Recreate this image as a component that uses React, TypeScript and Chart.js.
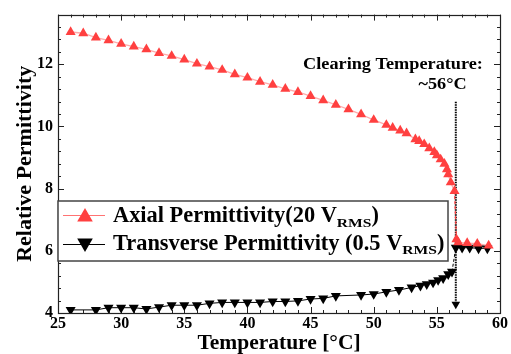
import React, { useEffect, useRef } from 'react';
import { Chart, registerables } from 'chart.js';

Chart.register(...registerables);

// ---- data ----
const axialTemp = [26, 27, 28, 29, 30, 31, 32, 33, 34, 35, 36, 37, 38, 39, 40, 41, 42, 43, 44, 45, 46, 47, 48, 49, 50, 51, 51.5, 52.1, 52.6, 53.3, 53.6, 54, 54.4, 54.8, 55.0, 55.3, 55.6, 55.8, 55.9, 56.1, 56.4, 56.55, 56.7, 57.4, 58.2, 59.1];
const axialPerm = [13.04, 13.0, 12.86, 12.77, 12.66, 12.57, 12.48, 12.36, 12.27, 12.15, 12.02, 11.93, 11.82, 11.68, 11.57, 11.44, 11.34, 11.21, 11.11, 10.98, 10.84, 10.7, 10.55, 10.39, 10.21, 10.05, 9.96, 9.87, 9.78, 9.59, 9.53, 9.43, 9.3, 9.18, 9.07, 8.94, 8.8, 8.62, 8.46, 8.2, 7.92, 6.37, 6.27, 6.25, 6.23, 6.17];

const transTemp = [26, 28, 29, 30, 31, 32, 33, 34, 35, 36, 37, 38, 39, 40, 41, 42, 43, 44, 45, 46, 47, 49, 50, 51, 52, 53, 53.7, 54.2, 54.7, 55.1, 55.5, 55.9, 56.2, 56.5, 57.0, 57.6, 58.3, 59.0];
const transPerm = [4.1, 4.1, 4.17, 4.17, 4.17, 4.13, 4.19, 4.25, 4.25, 4.25, 4.31, 4.34, 4.34, 4.34, 4.34, 4.37, 4.37, 4.39, 4.45, 4.47, 4.55, 4.58, 4.61, 4.68, 4.74, 4.82, 4.88, 4.93, 4.98, 5.06, 5.12, 5.25, 5.33, 6.1, 6.1, 6.1, 6.08, 6.08];

const clearingTemp = 56.5;
const clearingLine = [10.8, 4.28];

const xTicks = [25, 30, 35, 40, 45, 50, 55, 60];
const yTicks = [4, 6, 8, 10, 12];
const xMinorStep = 1;
const yMinorStep = 0.4;

const legendLabels = [
  { main: 'Axial Permittivity(20 V', sub: 'RMS', tail: ')' },
  { main: 'Transverse Permittivity (0.5 V', sub: 'RMS', tail: ')' },
];
const annotationLines = ['Clearing Temperature:', '~56°C'];

const FONT = '"Liberation Serif", "Times New Roman", serif';
const RED = 'rgb(255,64,64)';

function drawText(ctx: CanvasRenderingContext2D, text: string, x: number, y: number, size: number, sx: number, align: 'left' | 'center' = 'left') {
  ctx.save();
  ctx.font = `bold ${size}px ${FONT}`;
  const w = ctx.measureText(text).width * sx;
  const x0 = align === 'center' ? x - w / 2 : x;
  ctx.translate(x0, y);
  ctx.scale(sx, 1);
  ctx.textAlign = 'left';
  ctx.textBaseline = 'alphabetic';
  ctx.fillStyle = '#000';
  ctx.fillText(text, 0, 0);
  ctx.restore();
  return w;
}

function tri(ctx: CanvasRenderingContext2D, x: number, y: number, r: number, down: boolean, color: string) {
  const s = down ? -1 : 1;
  ctx.beginPath();
  ctx.moveTo(x, y - s * r);
  ctx.lineTo(x + 0.866 * r, y + s * 0.5 * r);
  ctx.lineTo(x - 0.866 * r, y + s * 0.5 * r);
  ctx.closePath();
  ctx.fillStyle = color;
  ctx.fill();
}

const framePlugin = {
  id: 'frame',
  beforeDatasetsDraw(chart: any) {
    const { ctx, chartArea: a, scales } = chart;
    const x = scales.x, y = scales.y;
    ctx.save();
    ctx.strokeStyle = '#222';
    ctx.lineWidth = 1;
    ctx.beginPath();
    const xmin = x.min, xmax = x.max;
    for (let k = 0; xmin + k * xMinorStep <= xmax + 1e-6; k++) {
      const v = xmin + k * xMinorStep;
      const px = Math.round(x.getPixelForValue(v)) + 0.5;
      const major = xTicks.some((t) => Math.abs(t - v) < 1e-6);
      const L = major ? 6 : 3;
      ctx.moveTo(px, a.bottom); ctx.lineTo(px, a.bottom - L);
      ctx.moveTo(px, a.top); ctx.lineTo(px, a.top + L);
    }
    for (let k = 0; y.min + k * yMinorStep <= y.max + 1e-6; k++) {
      const v = y.min + k * yMinorStep;
      const py = Math.round(y.getPixelForValue(v)) + 0.5;
      const major = yTicks.some((t) => Math.abs(t - v) < 1e-6);
      const L = major ? 6 : 3;
      ctx.moveTo(a.left, py); ctx.lineTo(a.left + L, py);
      ctx.moveTo(a.right, py); ctx.lineTo(a.right - L, py);
    }
    ctx.stroke();
    ctx.lineWidth = 1.2;
    ctx.strokeRect(Math.round(a.left) + 0.5, Math.round(a.top) + 0.5, Math.round(a.right - a.left), Math.round(a.bottom - a.top));
    ctx.restore();
  },
  afterDraw(chart: any) {
    const { ctx } = chart;
    ctx.save();
    // annotation
    drawText(ctx, annotationLines[0], 393, 68.5, 16, 1.14, 'center');
    drawText(ctx, annotationLines[1], 442.5, 89, 16, 1.14, 'center');
    // legend
    const lx = 58, ly = 201, lw = 390, lh = 60;
    ctx.fillStyle = '#fff';
    ctx.fillRect(lx, ly, lw, lh);
    ctx.strokeStyle = '#444';
    ctx.lineWidth = 1.5;
    ctx.strokeRect(lx, ly, lw, lh);
    const rows = [
      { lineY: 215, markY: 217, base: 222, color: RED, lineColor: 'rgba(255,80,80,0.8)', down: false },
      { lineY: 244, markY: 243, base: 249.5, color: '#000', lineColor: '#000', down: true },
    ];
    rows.forEach((r, i) => {
      ctx.strokeStyle = r.lineColor;
      ctx.lineWidth = 1;
      ctx.beginPath();
      ctx.moveTo(63, r.lineY + 0.5);
      ctx.lineTo(105, r.lineY + 0.5);
      ctx.stroke();
      tri(ctx, 85, r.markY, 9, r.down, r.color);
      const lab = legendLabels[i];
      let xx = 113;
      xx += drawText(ctx, lab.main, xx, r.base, 22.4, 1, 'left');
      xx += drawText(ctx, lab.sub, xx, r.base + 4.5, 13, 1.2, 'left');
      drawText(ctx, lab.tail, xx, r.base, 22.4, 1, 'left');
    });
    ctx.restore();
  },
};

export default function App() {
  const ref = useRef<HTMLCanvasElement | null>(null);
  useEffect(() => {
    if (!ref.current) return;
    const chart = new Chart(ref.current, {
      type: 'scatter',
      data: {
        datasets: [
          {
            label: 'Axial',
            data: axialTemp.map((t, i) => ({ x: t, y: axialPerm[i] })),
            showLine: true,
            borderColor: 'rgba(255,100,100,0.55)',
            borderWidth: 1.3,
            pointStyle: 'triangle',
            pointRadius: 5.8,
            pointBackgroundColor: RED,
            pointBorderColor: RED,
            pointBorderWidth: 0,
            tension: 0,
            segment: {
              borderDash: (c: any) => (Math.abs(c.p1.parsed.y - c.p0.parsed.y) > 0.8 ? [3, 2] : undefined),
              borderColor: (c: any) => (Math.abs(c.p1.parsed.y - c.p0.parsed.y) > 0.8 ? RED : undefined),
            },
          },
          {
            label: 'Transverse',
            data: transTemp.map((t, i) => ({ x: t, y: transPerm[i] })),
            showLine: true,
            borderColor: '#000',
            borderWidth: 1,
            pointStyle: 'triangle',
            pointRotation: 180,
            pointRadius: 5.8,
            pointBackgroundColor: '#000',
            pointBorderColor: '#000',
            pointBorderWidth: 0,
            tension: 0,
            segment: {
              borderDash: (c: any) => (Math.abs(c.p1.parsed.y - c.p0.parsed.y) > 0.5 ? [3, 2] : undefined),
            },
          },
          {
            label: 'Clearing',
            data: clearingLine.map((v) => ({ x: clearingTemp, y: v })),
            showLine: true,
            borderColor: '#000',
            borderWidth: 2,
            borderDash: [1.5, 1],
            pointStyle: 'triangle',
            pointRotation: 180,
            pointRadius: [0, 5],
            pointBackgroundColor: '#000',
            pointBorderWidth: 0,
          },
        ],
      },
      options: {
        responsive: false,
        animation: false,
        layout: { padding: { left: 0, top: 14, right: 9, bottom: 0 } },
        plugins: { legend: { display: false }, tooltip: { enabled: false } },
        scales: {
          x: {
            type: 'linear',
            min: 25,
            max: 60,
            afterBuildTicks: (s: any) => { s.ticks = xTicks.map((v) => ({ value: v })); },
            afterFit: (s: any) => { s.height = 41; },
            grid: { display: false, drawTicks: false, tickLength: 0 },
            border: { display: false },
            ticks: { color: '#000', font: { family: FONT, size: 16, weight: 'bold', lineHeight: 1 }, padding: 3, maxRotation: 0 },
            title: { display: true, text: 'Temperature [°C]', color: '#000', font: { family: FONT, size: 21.5, weight: 'bold', lineHeight: 1 }, padding: 0 },
          },
          y: {
            type: 'linear',
            min: 4,
            max: 13.6,
            afterBuildTicks: (s: any) => { s.ticks = yTicks.map((v) => ({ value: v })); },
            afterFit: (s: any) => { s.width = 58; },
            grid: { display: false, drawTicks: false, tickLength: 0 },
            border: { display: false },
            ticks: { color: '#000', font: { family: FONT, size: 16, weight: 'bold' }, padding: 5 },
            title: { display: true, text: 'Relative Permittivity', color: '#000', font: { family: FONT, size: 22, weight: 'bold', lineHeight: 1 }, padding: { top: 14.5, bottom: 0 } },
          },
        },
      },
      plugins: [framePlugin],
    } as any);
    return () => chart.destroy();
  }, []);
  return (
    <div style={{ position: 'absolute', left: 0, top: 0, width: 511, height: 354, background: '#fff' }}>
      <canvas ref={ref} width={511} height={354} style={{ width: 511, height: 354, display: 'block' }} />
    </div>
  );
}
